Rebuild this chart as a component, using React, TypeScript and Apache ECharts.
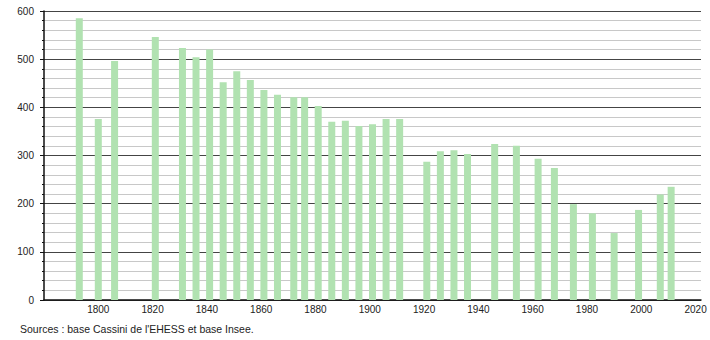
import React, { useEffect, useRef } from "react";
import * as echarts from "echarts";

const years = [1793, 1800, 1806, 1821, 1831, 1836, 1841, 1846, 1851, 1856, 1861, 1866, 1872, 1876, 1881, 1886, 1891, 1896, 1901, 1906, 1911, 1921, 1926, 1931, 1936, 1946, 1954, 1962, 1968, 1975, 1982, 1990, 1999, 2007, 2011];
const population = [585, 376, 496, 546, 523, 504, 520, 452, 475, 457, 436, 426, 421, 421, 403, 370, 372, 361, 365, 376, 376, 287, 309, 311, 303, 324, 320, 293, 274, 199, 180, 139, 187, 219, 235];
const sourceText = "Sources : base Cassini de l'EHESS et base Insee.";

export default function App() {
  const ref = useRef<HTMLDivElement>(null);
  useEffect(() => {
    if (!ref.current) return;
    const chart = echarts.init(ref.current, null, { renderer: "svg" });
    const font = "'Liberation Sans', Arial, sans-serif";
    chart.setOption({
      animation: false,
      grid: { left: 44, right: 9, top: 11, bottom: 40, containLabel: false },
      xAxis: {
        type: "value",
        min: 1780,
        max: 2022,
        interval: 20,
        axisLine: { show: true, onZero: false, lineStyle: { color: "#111", width: 1.5 } },
        axisTick: { show: false },
        splitLine: { show: false },
        axisLabel: {
          color: "#222",
          fontSize: 10,
          fontFamily: font,
          margin: 4,
          showMaxLabel: false,
          formatter: (v: number) => (v % 20 === 0 && v > 1780 ? String(v) : ""),
        },
      },
      yAxis: {
        type: "value",
        min: 0,
        max: 600,
        interval: 100,
        axisLine: { show: true, lineStyle: { color: "#111", width: 1.5 } },
        axisTick: { show: true, length: 4, lineStyle: { color: "#111" } },
        minorTick: { show: true, splitNumber: 5, length: 2, lineStyle: { color: "#111" } },
        splitLine: { show: true, lineStyle: { color: "#444", width: 1 } },
        minorSplitLine: { show: true, lineStyle: { color: "#c8c8c8", width: 1 } },
        axisLabel: { color: "#222", fontSize: 10, fontFamily: font, margin: 10 },
      },
      series: [
        {
          type: "bar",
          data: years.map((y, i) => [y, population[i]]),
          barWidth: 7,
          itemStyle: { color: "#b1e2b1" },
          z: 3,
        },
      ],
      graphic: [
        {
          type: "text",
          left: 20,
          top: 323,
          style: { text: sourceText, fill: "#222", fontSize: 10.5, fontFamily: font },
        },
      ],
    });
    return () => chart.dispose();
  }, []);
  return <div ref={ref} style={{ position: "fixed", left: 0, top: 0, width: 710, height: 340, background: "#fff" }} />;
}
